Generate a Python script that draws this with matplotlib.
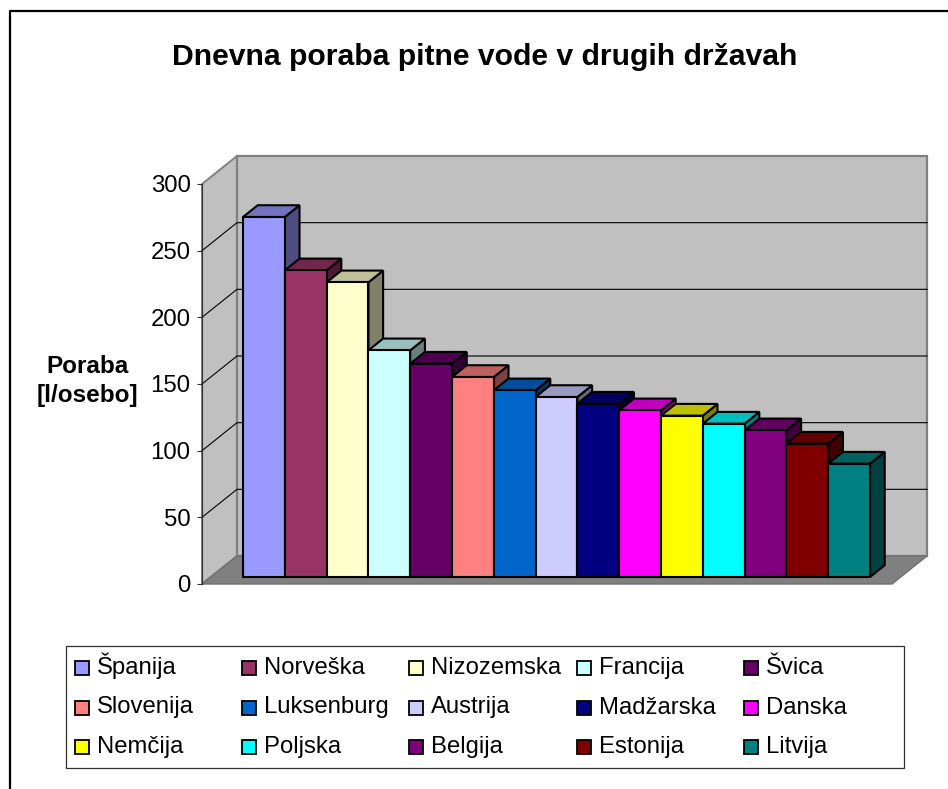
import matplotlib
matplotlib.use('Agg')
import matplotlib.pyplot as plt
from matplotlib.patches import Polygon, Rectangle
from matplotlib.colors import to_rgb

plt.rcParams['font.family'] = ['Liberation Sans', 'DejaVu Sans']

# data
countries = ['Španija', 'Norveška', 'Nizozemska', 'Francija', 'Švica',
             'Slovenija', 'Luksenburg', 'Austrija', 'Madžarska', 'Danska',
             'Nemčija', 'Poljska', 'Belgija', 'Estonija', 'Litvija']
usage = [270, 230, 221, 170, 160, 150, 140, 135, 130, 125, 121, 115, 110, 100, 85]
colors = ['#9999FF', '#993366', '#FFFFCC', '#CCFFFF', '#660066',
          '#FF8080', '#0066CC', '#CCCCFF', '#000080', '#FF00FF',
          '#FFFF00', '#00FFFF', '#800080', '#800000', '#008080']
y_ticks = [0, 50, 100, 150, 200, 250, 300]

W, H = 948, 789


def fx(px):
    return px / W


def fy(py):
    return 1 - py / H


def shade(color, k):
    return tuple(c * k for c in to_rgb(color))


fig = plt.figure(figsize=(W / 100, H / 100), dpi=100)

# outer frame, only left and top are visible in the picture
fig.add_artist(plt.Line2D([fx(10), fx(10), 1], [0, fy(11), fy(11)], color='black', lw=1.6))

# front plane of the 3d box: 690x400 px
ax = fig.add_axes([fx(202), fy(584), 690 / W, 400 / H])
ax.set_xlim(-1.272, 15.235)
ax.set_ylim(0, 300)
ax.patch.set_visible(False)

# oblique depth of the box in data units
DX = 35 / 41.8
DY = 21.0
x0, x1 = ax.get_xlim()
top = y_ticks[-1]

# walls and floor
ax.add_patch(Polygon([(x0, 0), (x0 + DX, DY), (x0 + DX, top + DY), (x0, top)], fc='#C0C0C0',
                     ec='#808080', lw=1.4, clip_on=False, zorder=1))
ax.add_patch(Polygon([(x0 + DX, DY), (x1 + DX, DY), (x1 + DX, top + DY), (x0 + DX, top + DY)],
                     fc='#C0C0C0', ec='#808080', lw=1.6, clip_on=False, zorder=1))
ax.add_patch(Polygon([(x0, 0), (x1, 0), (x1 + DX, DY), (x0 + DX, DY)], fc='#808080',
                     ec='#707070', lw=1, clip_on=False, zorder=2))

# gridlines on side wall and back wall
for t in y_ticks[1:-1]:
    ax.plot([x0, x0 + DX, x1 + DX], [t, t + DY, t + DY], color='black', lw=0.8,
            clip_on=False, zorder=3)

# bars sit between these two depths
d_front = 0.25
d_back = 0.67
for i, (v, c) in enumerate(zip(usage, colors)):
    xa = i - 0.5 + d_front * DX
    xb = i + 0.5 + d_front * DX
    ya = d_front * DY
    yb = v + d_front * DY
    ddx = (d_back - d_front) * DX
    ddy = (d_back - d_front) * DY
    z = 4 + i
    ax.bar(xa + 0.5, v, width=1, bottom=ya, color=c, edgecolor='black', linewidth=1.5,
           clip_on=False, zorder=z + 0.2)
    ax.add_patch(Polygon([(xb, ya), (xb + ddx, ya + ddy), (xb + ddx, yb + ddy), (xb, yb)],
                         fc=shade(c, 0.5), ec='black', lw=1.5, clip_on=False, zorder=z))
    ax.add_patch(Polygon([(xa, yb), (xb, yb), (xb + ddx, yb + ddy), (xa + ddx, yb + ddy)],
                         fc=shade(c, 0.75), ec='black', lw=1.5, clip_on=False, zorder=z + 0.1))

for side in ['top', 'right', 'bottom']:
    ax.spines[side].set_visible(False)
ax.spines['left'].set_color('#303030')
ax.spines['left'].set_zorder(3)
ax.set_xticks([])
ax.set_yticks(y_ticks)
ax.tick_params(axis='y', length=3.6, width=0.8, pad=4.5, labelsize=17.3, color='#303030')

# title and axis label
fig.text(fx(485), fy(57), 'Dnevna poraba pitne vode v drugih državah', ha='center', va='center',
         fontsize=21.7, fontweight='bold')
fig.text(fx(87), fy(381), 'Poraba\n[l/osebo]', ha='center', va='center', fontsize=17.5,
         fontweight='bold', linespacing=1.3, multialignment='center')

# legend box, excel keeps equal column widths so it is laid out by hand
fig.add_artist(Rectangle((fx(66), fy(768)), 838 / W, 122 / H, transform=fig.transFigure,
                         fc='white', ec='#303030', lw=0.9))
ncol = 5
for i, (name, c) in enumerate(zip(countries, colors)):
    col = i % ncol
    row = i // ncol
    left = 75 + col * 167.2
    base = 674 + row * 39.5
    fig.add_artist(Rectangle((fx(left), fy(base + 1)), 14 / W, 14 / H, transform=fig.transFigure,
                             fc=c, ec='black', lw=1.3))
    fig.text(fx(left + 22), fy(base), name, ha='left', va='baseline', fontsize=17.2)

fig.savefig('out.png', dpi=100)
